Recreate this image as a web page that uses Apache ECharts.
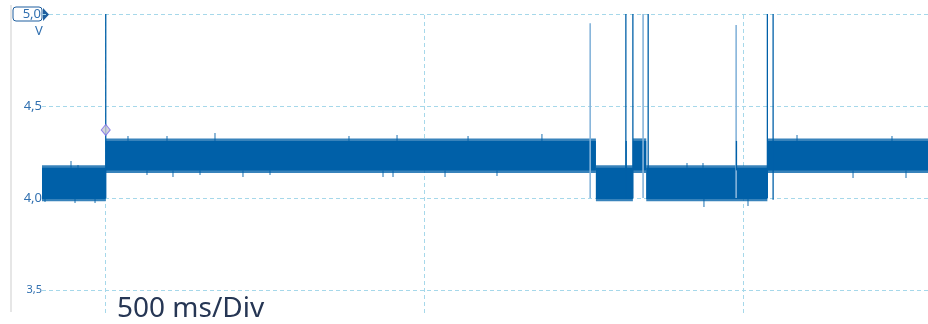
<!DOCTYPE html>
<html><head><meta charset="utf-8">
<script src="https://cdn.jsdelivr.net/npm/echarts@6/dist/echarts.min.js"></script>
<style>html,body{margin:0;padding:0;background:#fff}#c{width:928px;height:324px}</style>
</head><body><div id="c"></div><script>
// Time in ms relative to the trigger point, voltage in V.
// Noise band segments of the trace: start/end time and band limits.
const segStart    = [-100,  0,     769,   827,   848,   1038];
const segEnd      = [0,     769,   827,   848,   1038,  1290];
const segCoreLow  = [3.995, 4.150, 3.995, 4.150, 3.995, 4.150];
const segCoreHigh = [4.165, 4.310, 4.165, 4.310, 4.165, 4.310];
const segPeakLow  = [3.982, 4.136, 3.982, 4.136, 3.982, 4.136];
const segPeakHigh = [4.178, 4.324, 4.178, 4.324, 4.178, 4.324];

// Glitches: time, start and end voltage, faint (thin) or solid
const spikeTime  = [0,    760,  816,  816.5, 827, 843,  851,  989,  989.5, 1038, 1047];
const spikeFrom  = [4.0,  4.0,  4.0,  4.150, 4.0, 4.0,  4.0,  4.0,  4.150, 4.0,  3.99];
const spikeTo    = [5.0,  4.95, 5.0,  4.310, 5.0, 5.0,  5.0,  4.94, 4.310, 5.0,  5.0];
const spikeFaint = [0,    1,    0,    0,     0,   1,    0,    1,    0,     0,    0];

// Isolated noise peaks beyond the band edges
const peakTime = [34.9, 96.1, 171.4, 381.6, 457, 568.4, 684.3, 1084.5, 1233.5,
                  64.7, 105.5, 147.9, 215.3, 257.7, 435, 450.7, 532.3, 613.8, 1172.4, 1255.5,
                  -54.5, -43.5, 911.9, 937,
                  -95.3, -48.2, -16.8, 938.5, 1007.6];
const peakBase = [4.310, 4.310, 4.310, 4.310, 4.310, 4.310, 4.310, 4.310, 4.310,
                  4.150, 4.150, 4.150, 4.150, 4.150, 4.150, 4.150, 4.150, 4.150, 4.150, 4.150,
                  4.165, 4.165, 4.165, 4.165,
                  3.995, 3.995, 3.995, 3.995, 3.995];
const peakTop  = [4.337, 4.337, 4.353, 4.337, 4.342, 4.337, 4.348, 4.342, 4.337,
                  4.125, 4.114, 4.125, 4.114, 4.125, 4.114, 4.114, 4.114, 4.120, 4.109, 4.109,
                  4.201, 4.179, 4.190, 4.190,
                  3.978, 3.973, 3.973, 3.951, 3.957];

// Trigger marker
const triggerPoint = [0, 4.37];

// Grid divisions
const timeDivs = [0, 500, 1000];
const voltDivs = [3.5, 4.0, 4.5, 5.0];

const TRACE = '#0060a8';
const FAINT = '#86b4da';
const GRID = '#a6d8ea';
const LABEL = '#3170b0';

const bands = segStart.map((s, i) => [s, segEnd[i], segCoreLow[i], segCoreHigh[i], segPeakLow[i], segPeakHigh[i]]);
const spikes = spikeTime.map((t, i) => [t, spikeFrom[i], spikeTo[i], spikeFaint[i]]);
const peaks = peakTime.map((t, i) => [t, peakBase[i], peakTop[i]]);

function renderBand(params, api) {
  const t0 = api.value(0), t1 = api.value(1);
  const rect = (lo, hi, fill) => {
    const a = api.coord([t0, hi]), b = api.coord([t1, lo]);
    return { type: 'rect', shape: { x: a[0], y: a[1], width: b[0] - a[0], height: b[1] - a[1] }, style: { fill } };
  };
  return { type: 'group', children: [
    rect(api.value(4), api.value(5), 'rgba(0,96,168,0.78)'),
    rect(api.value(2), api.value(3), TRACE)
  ]};
}

function renderSpike(params, api) {
  const a = api.coord([api.value(0), api.value(1)]);
  const b = api.coord([api.value(0), api.value(2)]);
  const faint = api.value(3) === 1;
  return { type: 'line', shape: { x1: a[0], y1: a[1], x2: b[0], y2: b[1] },
    style: { stroke: faint ? FAINT : TRACE, lineWidth: faint ? 1.6 : 1.3 } };
}

function renderPeak(params, api) {
  const a = api.coord([api.value(0), api.value(1)]);
  const b = api.coord([api.value(0), api.value(2)]);
  return { type: 'line', shape: { x1: a[0], y1: a[1], x2: b[0], y2: b[1] },
    style: { stroke: 'rgba(0,96,168,0.75)', lineWidth: 1.2 } };
}

const chart = echarts.init(document.getElementById('c'), null, { renderer: 'canvas' });

const fmtVolt = v => String(v.toFixed(1)).replace('.', ',');

chart.setOption({
  animation: false,
  backgroundColor: '#ffffff',
  grid: { left: 42, right: 0, top: 14, bottom: 11 },
  xAxis: {
    type: 'value', min: -100, max: 1290,
    axisLine: { show: false }, axisTick: { show: false }, axisLabel: { show: false }, splitLine: { show: false }
  },
  yAxis: {
    type: 'value', min: 3.375, max: 5, interval: 0.125,
    axisLine: { show: false }, axisTick: { show: false }, splitLine: { show: false },
    axisLabel: {
      margin: 0,
      color: LABEL,
      fontFamily: 'Noto Sans',
      fontSize: 13,
      formatter: v => {
        if (Math.abs(v - 5) < 1e-6) return '{b|' + fmtVolt(v) + '}';
        if (Math.abs(v - 3.5) < 1e-6) return '{s|' + fmtVolt(v) + '}';
        if (Math.abs(v * 2 - Math.round(v * 2)) < 1e-6) return fmtVolt(v);
        return '';
      },
      rich: {
        b: { color: LABEL, fontFamily: 'Noto Sans', fontSize: 13, borderColor: '#1f5f9f', borderWidth: 1,
             borderRadius: 3, width: 28, align: 'right', padding: [0, 1, 0, 0], height: 14 },
        s: { color: LABEL, fontFamily: 'Noto Sans', fontSize: 11 }
      }
    }
  },
  series: [
    {
      type: 'line', data: [], silent: true, z: 1,
      markLine: {
        silent: true, symbol: 'none', label: { show: false }, z: 1,
        lineStyle: { color: GRID, type: [4, 3], width: 1 },
        data: timeDivs.map(t => ({ xAxis: t })).concat(voltDivs.map(v => ({ yAxis: v })))
      }
    },
    { type: 'custom', renderItem: renderBand, data: bands, encode: { x: [0, 1], y: [2, 3] }, silent: true, z: 3 },
    { type: 'custom', renderItem: renderPeak, data: peaks, encode: { x: 0, y: [1, 2] }, silent: true, z: 3 },
    { type: 'custom', renderItem: renderSpike, data: spikes, encode: { x: 0, y: [1, 2] }, silent: true, z: 4 },
    {
      type: 'scatter', data: [triggerPoint], symbol: 'diamond', symbolSize: [9, 11], silent: true,
      itemStyle: { color: '#c9c9d2', borderColor: '#7868e8', borderWidth: 1 }, z: 6
    }
  ],
  graphic: [
    { type: 'line', shape: { x1: 11, y1: 5, x2: 11, y2: 312 }, style: { stroke: '#e6e6e6', lineWidth: 2 }, silent: true },
    { type: 'polygon', shape: { points: [[43, 8], [49, 14.5], [43, 21]] }, style: { fill: '#1f5f9f' }, silent: true },
    { type: 'text', x: 39, y: 31, style: { text: 'V', fill: LABEL, font: '13px "Noto Sans"', align: 'center', verticalAlign: 'middle' }, silent: true },
    { type: 'text', x: 117, y: 309, style: { text: '500 ms/Div', fill: '#263654', font: '28px "Noto Sans"', align: 'left', verticalAlign: 'middle' }, silent: true }
  ]
});
</script></body></html>
